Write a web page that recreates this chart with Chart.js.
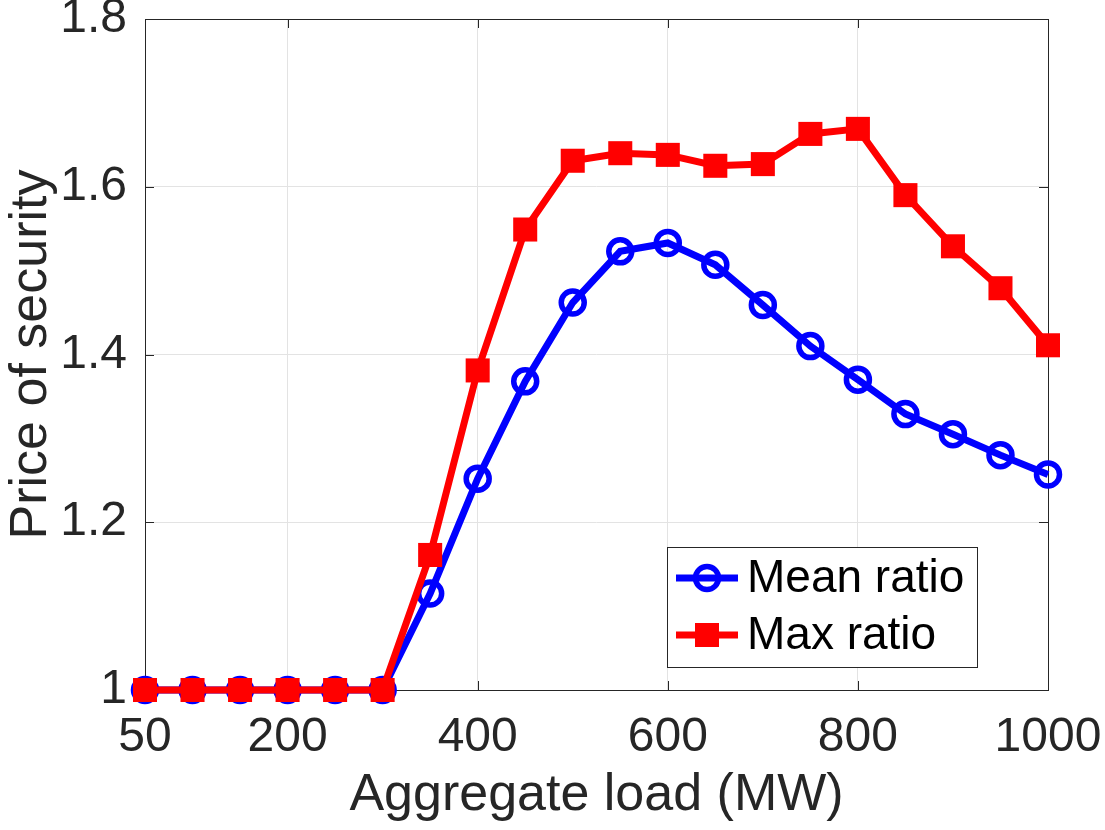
<!DOCTYPE html>
<html>
<head>
<meta charset="utf-8">
<script src="https://cdn.jsdelivr.net/npm/chart.js@4/dist/chart.umd.min.js"></script>
<style>
  html, body { margin: 0; padding: 0; background: #fff; }
  #wrap { width: 1105px; height: 830px; }
</style>
</head>
<body>
<div id="wrap"><canvas id="chart" width="1105" height="830"></canvas></div>
<script>
// Dati
const loads = [50, 100, 150, 200, 250, 300, 350, 400, 450, 500, 550, 600, 650, 700, 750, 800, 850, 900, 950, 1000];
const meanRatio = [1, 1, 1, 1, 1, 1, 1.115, 1.252, 1.368, 1.462, 1.523, 1.533, 1.507, 1.459, 1.41, 1.37, 1.329, 1.305, 1.28, 1.257];
const maxRatio = [1, 1, 1, 1, 1, 1, 1.161, 1.381, 1.549, 1.631, 1.64, 1.638, 1.625, 1.627, 1.663, 1.669, 1.59, 1.529, 1.479, 1.411];
const xTicks = [50, 200, 400, 600, 800, 1000];
const yTicks = [1, 1.2, 1.4, 1.6, 1.8];

const FONT = "'Liberation Sans', Arial, Helvetica, sans-serif";
const AXIS_COLOR = '#262626';

function toPoints(xs, ys) {
    return xs.map((x, i) => ({ x: x, y: ys[i] }));
}

// Bordo del riquadro, tacche interne e legenda stile MATLAB
const matlabBox = {
    id: 'matlabBox',
    beforeDatasetsDraw(chart) {
        const { ctx, chartArea: a, scales } = chart;
        ctx.save();
        ctx.strokeStyle = AXIS_COLOR;
        ctx.lineWidth = 1;
        ctx.strokeRect(a.left + 0.5, a.top + 0.5, a.right - a.left, a.bottom - a.top);
        ctx.beginPath();
        const tl = 9;
        xTicks.forEach(v => {
            const x = Math.round(scales.x.getPixelForValue(v)) + 0.5;
            ctx.moveTo(x, a.bottom); ctx.lineTo(x, a.bottom - tl);
            ctx.moveTo(x, a.top); ctx.lineTo(x, a.top + tl);
        });
        yTicks.forEach(v => {
            const y = Math.round(scales.y.getPixelForValue(v)) + 0.5;
            ctx.moveTo(a.left, y); ctx.lineTo(a.left + tl, y);
            ctx.moveTo(a.right, y); ctx.lineTo(a.right - tl, y);
        });
        ctx.stroke();
        ctx.restore();
    },
    afterDatasetsDraw(chart) {
        const { ctx, chartArea: a } = chart;
        ctx.save();
        // legenda
        const bw = 310, bh = 120;
        const bx = a.right - 71 - bw, by = a.bottom - 23 - bh;
        ctx.fillStyle = '#fff';
        ctx.fillRect(bx, by, bw, bh);
        ctx.strokeStyle = AXIS_COLOR;
        ctx.lineWidth = 1;
        ctx.strokeRect(bx + 0.5, by + 0.5, bw, bh);
        const items = [
            { label: 'Mean ratio', color: '#0000ff', marker: 'circle' },
            { label: 'Max ratio', color: '#ff0000', marker: 'rect' }
        ];
        items.forEach((it, i) => {
            const cy = by + 31 + i * 57;
            ctx.strokeStyle = it.color;
            ctx.lineWidth = 7;
            ctx.beginPath();
            ctx.moveTo(bx + 9, cy); ctx.lineTo(bx + 71, cy);
            ctx.stroke();
            const cx = bx + 40;
            if (it.marker === 'circle') {
                ctx.lineWidth = 5.5;
                ctx.beginPath();
                ctx.arc(cx, cy, 11.5, 0, Math.PI * 2);
                ctx.stroke();
            } else {
                ctx.fillStyle = it.color;
                ctx.fillRect(cx - 12, cy - 12, 24, 24);
            }
            ctx.fillStyle = '#000';
            ctx.font = '46px ' + FONT;
            ctx.textBaseline = 'middle';
            ctx.textAlign = 'left';
            ctx.fillText(it.label, bx + 80, cy + 1);
        });
        ctx.restore();
    }
};

new Chart(document.getElementById('chart'), {
    type: 'line',
    data: {
        datasets: [
            {
                label: 'Max ratio',
                data: toPoints(loads, maxRatio),
                borderColor: '#ff0000',
                backgroundColor: '#ff0000',
                borderWidth: 7,
                pointStyle: 'rect',
                pointRadius: 17,
                pointBorderWidth: 0,
                pointBackgroundColor: '#ff0000',
                clip: false,
                order: 0
            },
            {
                label: 'Mean ratio',
                data: toPoints(loads, meanRatio),
                borderColor: '#0000ff',
                backgroundColor: 'rgba(0,0,0,0)',
                borderWidth: 7,
                pointStyle: 'circle',
                pointRadius: 11.5,
                pointBorderWidth: 5.5,
                pointBackgroundColor: 'rgba(0,0,0,0)',
                clip: false,
                order: 1
            }
        ]
    },
    options: {
        responsive: false,
        animation: false,
        layout: { padding: { top: 19, right: 57, left: 0, bottom: 0 } },
        plugins: {
            legend: { display: false },
            tooltip: { enabled: false }
        },
        scales: {
            x: {
                type: 'linear',
                min: 50,
                max: 1000,
                afterBuildTicks: (scale) => { scale.ticks = xTicks.map(v => ({ value: v })); },
                afterFit: (scale) => { scale.height = 140; scale.paddingLeft = 0; scale.paddingRight = 0; },
                border: { display: false },
                grid: { color: '#e3e3e3', lineWidth: 1, drawTicks: false },
                ticks: {
                    color: AXIS_COLOR,
                    font: { family: FONT, size: 48 },
                    padding: 19,
                    maxRotation: 0,
                    autoSkip: false,
                    callback: (v) => String(v)
                },
                title: {
                    display: true,
                    text: 'Aggregate load (MW)',
                    color: AXIS_COLOR,
                    font: { family: FONT, size: 52 },
                    padding: { top: 0, bottom: 3 }
                }
            },
            y: {
                type: 'linear',
                min: 1,
                max: 1.8,
                afterBuildTicks: (scale) => { scale.ticks = yTicks.map(v => ({ value: v })); },
                afterFit: (scale) => { scale.width = 145; scale.paddingTop = 0; scale.paddingBottom = 0; },
                border: { display: false },
                grid: { color: '#e3e3e3', lineWidth: 1, drawTicks: false },
                ticks: {
                    color: AXIS_COLOR,
                    font: { family: FONT, size: 48 },
                    padding: 18,
                    callback: (v) => String(Number(v.toFixed(1)))
                },
                title: {
                    display: true,
                    text: 'Price of security',
                    color: AXIS_COLOR,
                    font: { family: FONT, size: 52 },
                    padding: { top: 0, bottom: 0 }
                }
            }
        }
    },
    plugins: [matlabBox]
});
</script>
</body>
</html>
